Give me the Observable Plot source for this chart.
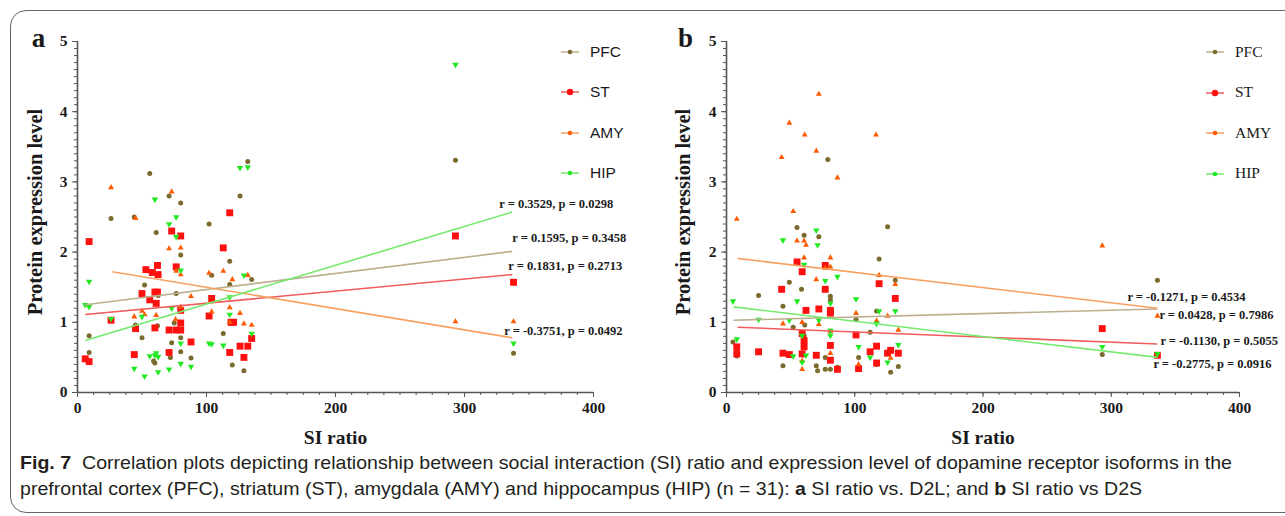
<!DOCTYPE html>
<html>
<head>
<meta charset="utf-8">
<script src="https://cdn.jsdelivr.net/npm/d3@7"></script>
<script src="https://cdn.jsdelivr.net/npm/@observablehq/plot@0.6"></script>
<style>
  html, body { margin: 0; padding: 0; background: #fff; }
  body { width: 1285px; height: 516px; position: relative; overflow: hidden; }
  .abs { position: absolute; }
  .leg { position: absolute; font-size: 15.5px; color: #1a1a1a; line-height: 1; white-space: nowrap; }
  .cap { position: absolute; left: 20px; white-space: nowrap; color: #231f20; transform-origin: 0 50%;
         font-family: "Liberation Sans", Arial, sans-serif; font-size: 19px; line-height: 26px; }
  #frame { position: absolute; left: 10px; top: 10px; width: 1300px; height: 503px; border: 1.5px solid #666;
           border-radius: 16px; pointer-events: none; box-sizing: border-box; }
</style>
</head>
<body>
<div id="frame"></div>
<div id="pa" class="abs" style="left:0;top:0"></div>
<div id="pb" class="abs" style="left:640px;top:0"></div>
<div id="cap1" class="cap" style="top:450px"><b>Fig. 7</b>&nbsp; Correlation plots depicting relationship between social interaction (SI) ratio and expression level of dopamine receptor isoforms in the</div>
<div id="cap2" class="cap" style="top:476px">prefrontal cortex (PFC), striatum (ST), amygdala (AMY) and hippocampus (HIP) (n = 31): <b>a</b> SI ratio vs. D2L; and <b>b</b> SI ratio vs D2S</div>
<script>
// ---------- data ----------
const series = ["PFC", "ST", "AMY", "HIP"];
const xTicks = [0, 100, 200, 300, 400];
const yTicks = [0, 1, 2, 3, 4, 5];

// Panel a: SI ratio vs D2L  ([SI ratio, protein expression])
const aPFC = [[9,0.81],[9,0.57],[26,2.48],[44,2.50],[45,0.96],[50,0.78],[52,1.53],[56,3.12],[60,0.42],[59,0.45],[61,2.28],[62,0.95],[62.5,1.38],[71,2.80],[72,0.50],[73,0.71],[75,0.99],[76.5,1.41],[80,2.70],[80,1.96],[80,0.78],[80,0.58],[88,0.49],[102,2.40],[104,1.67],[113,0.84],[118,1.87],[118,1.54],[120,0.39],[126,2.80],[129,0.31],[132,3.29],[135,1.61],[293,3.31],[338,0.56]];
const aST = [[9,2.15],[6,0.48],[9,0.44],[26,1.03],[44,0.54],[45,0.91],[50,1.41],[53,1.75],[56,1.32],[58,1.71],[60,1.43],[62,1.43],[62,1.81],[61,1.27],[60,0.92],[62.5,1.68],[71,0.57],[71,0.89],[76.5,0.89],[80,0.89],[80,0.99],[80,1.17],[73,2.30],[80,2.23],[76.5,1.79],[88,0.72],[102,1.09],[104,1.34],[113,2.06],[118,2.56],[118,0.57],[119,1.0],[121,1.0],[126,0.66],[129,0.50],[132,0.66],[135,0.77],[293,2.23],[338,1.57]];
const aAMY = [[26,2.92],[45,2.48],[44,1.08],[50,1.16],[52,1.11],[61,1.10],[71,2.05],[73,2.86],[80,2.06],[76.5,1.73],[80,1.68],[80,1.22],[76,1.04],[88,1.37],[102,1.70],[104,1.15],[113,1.73],[118,1.21],[118,1.0],[120,1.61],[126,1.13],[129,0.98],[132,1.67],[135,0.96],[293,1.01],[338,1.01]];
const aHIP = [[9,1.58],[6,1.25],[9,1.22],[26,1.05],[50,1.08],[44,0.34],[52,0.23],[56,0.52],[60,2.75],[60,0.53],[62.5,0.51],[62.5,0.29],[61,0.56],[71,2.40],[76.5,2.50],[76.5,2.22],[80,1.74],[73,1.20],[71,0.33],[80,0.70],[80,0.41],[88,0.37],[102,0.70],[104,0.69],[113,0.67],[118,1.36],[118,1.11],[126,3.20],[132,3.21],[129,1.67],[135,0.84],[293,4.67],[338,0.70]];
// fitted lines: [series, x1, y1, x2, y2]
const aFits = [["PFC",6,1.25,337,2.01],["ST",6,1.11,337,1.68],["AMY",27,1.72,337,0.78],["HIP",6,0.74,337,2.57]];
const aStats = ["r = 0.1595, p = 0.3458","r = 0.1831, p = 0.2713","r = -0.3751, p = 0.0492","r = 0.3529, p = 0.0298"];

// Panel b: SI ratio vs D2S
const bPFC = [[5,0.72],[8,0.58],[8,0.52],[25,1.38],[44,0.38],[44,1.23],[49,1.57],[52,0.93],[55,2.35],[58.5,1.47],[60.5,2.24],[60.5,0.81],[61,0.96],[72,2.22],[70,0.38],[71,0.31],[77,0.50],[77,0.33],[79,3.32],[81,0.33],[81,1.37],[81,1.32],[86.5,0.36],[101,1.04],[103,0.50],[112,0.86],[117,1.16],[117,0.40],[119,1.90],[125.6,2.36],[128,0.29],[131.6,1.60],[134,0.37],[293,0.54],[336,1.60]];
const bST = [[8,0.65],[8,0.55],[25,0.58],[44,0.56],[43,1.47],[49,0.54],[55,1.86],[59,1.72],[59,0.84],[59,0.55],[60.5,0.74],[60.5,0.65],[62,1.17],[70,0.53],[72,1.19],[77,1.47],[77,1.81],[81,1.17],[81,1.13],[81,0.67],[81,0.46],[86.5,0.33],[101,0.82],[103,0.34],[112,0.58],[117,0.66],[117,0.42],[119,1.55],[125.6,0.56],[128,0.60],[131.6,1.34],[134,0.56],[293,0.91],[336,0.53]];
const bAMY = [[8,2.47],[43,3.35],[49,3.84],[52,2.58],[61,3.67],[70,3.44],[72,4.25],[86.5,3.06],[116.6,3.67],[55,2.16],[60.5,2.16],[62,2.10],[60.5,1.92],[70,1.61],[81,1.92],[81,1.79],[77,1.77],[44,0.98],[59,1.00],[59,0.33],[59,0.45],[72,0.97],[81,0.87],[81,0.56],[101,1.13],[103,0.40],[117,1.02],[119,1.67],[125.6,1.09],[128,0.49],[131.6,1.54],[134,0.89],[293,2.09],[336,1.09]];
const bHIP = [[5,1.30],[8,0.76],[25,1.04],[44,2.17],[49,1.03],[52,0.52],[55,1.30],[59,0.81],[60.5,1.82],[62,0.53],[59,0.43],[70,2.31],[71,2.10],[72,1.03],[77,1.59],[81,1.27],[81,0.88],[81,0.81],[86.5,1.65],[101,1.33],[103,0.65],[112,0.50],[117,0.98],[119,1.16],[125.6,0.43],[131.6,1.16],[134,0.68],[293,0.65],[336,0.55]];
const bFits = [["PFC",5.5,1.03,336,1.19],["ST",8.6,0.93,336,0.69],["AMY",8.6,1.91,336,1.20],["HIP",5.5,1.22,336,0.50]];
const bStats = ["r = 0.0428, p = 0.7986","r = -0.1130, p = 0.5055","r = -0.1271, p = 0.4534","r = -0.2775, p = 0.0916"];

// ---------- styles ----------
const dotColor = {PFC: "#7a6a2c", ST: "#ff1010", AMY: "#ff5a00", HIP: "#22ea22"};
const lineColor = {PFC: "#bdb08e", ST: "#f05c5c", AMY: "#f7a060", HIP: "#74ea6c"};
const symbolOf = {PFC: {symbol: "circle", r: 2.5}, ST: {symbol: "square", r: 3.9}, AMY: {symbol: "triangle", r: 2.2}, HIP: {symbol: "triangle", r: 2.4, rotate: 180}};
const axisColor = "#555";
const serif = "'Liberation Serif', 'Times New Roman', serif";

function panel({pts, fits, stats, offs, letter, width, ml, mr, titleDx, letterDx}) {
  const marks = [
    Plot.axisX({ticks: d3.range(0, 400.01, 12.5), tickSize: 3, tickFormat: () => "", stroke: axisColor, label: null}),
    Plot.axisX({ticks: xTicks, tickSize: 5, tickPadding: 4, tickFormat: d => String(d), stroke: axisColor, label: null, fontSize: 15.5}),
    Plot.axisY({ticks: d3.range(0, 50.5, 1).map(d => d / 10), tickSize: 3, tickFormat: () => "", stroke: axisColor, label: null}),
    Plot.axisY({ticks: yTicks, tickSize: 5, tickPadding: 5, tickFormat: d => String(d), stroke: axisColor, label: null, fontSize: 15.5}),
    Plot.ruleX([0], {stroke: axisColor, strokeWidth: 1.6}),
    Plot.ruleY([0], {stroke: axisColor, strokeWidth: 1.6})
  ];
  series.forEach((s, i) => {
    const sym = symbolOf[s];
    marks.push(Plot.dot(pts[i], {x: d => d[0], y: d => d[1], symbol: sym.symbol, r: sym.r, rotate: sym.rotate || 0, fill: dotColor[s], stroke: "none"}));
  });
  fits.forEach((f) => {
    marks.push(Plot.link([f], {x1: d => d[1], y1: d => d[2], x2: d => d[3], y2: d => d[4], stroke: lineColor[f[0]], strokeWidth: 1.6}));
  });
  fits.forEach((f, i) => {
    marks.push(Plot.text([f], {x: d => d[3], y: d => d[4], text: () => stats[i], dx: offs[i][0], dy: offs[i][1], textAnchor: "start", fontSize: 12.5}));
  });
  marks.push(Plot.text(["SI ratio"], {frameAnchor: "bottom", dy: 45, lineAnchor: "middle", textAnchor: "middle", fontSize: 19.5}));
  marks.push(Plot.text(["Protein expression level"], {frameAnchor: "left", dx: titleDx, dy: -5, rotate: -90, textAnchor: "middle", lineAnchor: "middle", fontSize: 20.5}));
  marks.push(Plot.text([letter], {frameAnchor: "top-left", dx: letterDx, dy: -3, textAnchor: "middle", lineAnchor: "middle", fontSize: 27}));
  return Plot.plot({
    width, height: 450,
    marginLeft: ml, marginRight: mr, marginTop: 41, marginBottom: 58,
    x: {domain: [0, 400]},
    y: {domain: [0, 5]},
    style: {fontFamily: serif, fontSize: "15px", fontWeight: "bold", background: "transparent", color: "#1a1a1a", overflow: "visible"},
    marks
  });
}

document.getElementById("pa").append(panel({
  pts: [aPFC, aST, aAMY, aHIP], fits: aFits, stats: aStats,
  offs: [[0, -13], [-4, -9], [-8, -7], [-13, -8]], letter: "a", width: 640, ml: 77, mr: 47, titleDx: -42, letterDx: -39
}));
document.getElementById("pb").append(panel({
  pts: [bPFC, bST, bAMY, bHIP], fits: bFits, stats: bStats,
  offs: [[2, 6], [3, -3], [-30, -11], [-4, 7]], letter: "b", width: 645, ml: 86, mr: 46, titleDx: -43, letterDx: -41
}));

// ---------- legends ----------
function legend(left, top, step, font) {
  series.forEach((s, i) => {
    const y = top + i * step;
    const div = document.createElement("div");
    div.className = "leg";
    div.style.left = left + "px";
    div.style.top = (y - 9) + "px";
    div.style.fontFamily = font;
    const r = s === "ST" ? 3.2 : 2.3;
    div.innerHTML = `<svg width="20" height="18" style="vertical-align:middle;overflow:visible"><line x1="0" x2="18" y1="9" y2="9" stroke="${lineColor[s]}" stroke-width="1.5"/><circle cx="9" cy="9" r="${r}" fill="${dotColor[s]}"/></svg><span style="position:absolute;left:29px;top:1px">${s}</span>`;
    document.body.append(div);
  });
}
legend(561, 52, 40.4, "'Liberation Sans', Arial, sans-serif");
legend(1206, 52, 40.4, serif);

// ---------- fit caption width (condensed look) ----------
const c1 = document.getElementById("cap1"), c2 = document.getElementById("cap2");
const w1 = c1.getBoundingClientRect().width;
const k = 1212 / w1;
c1.style.transform = `scaleX(${k})`;
c2.style.transform = `scaleX(${k})`;
</script>
</body>
</html>
